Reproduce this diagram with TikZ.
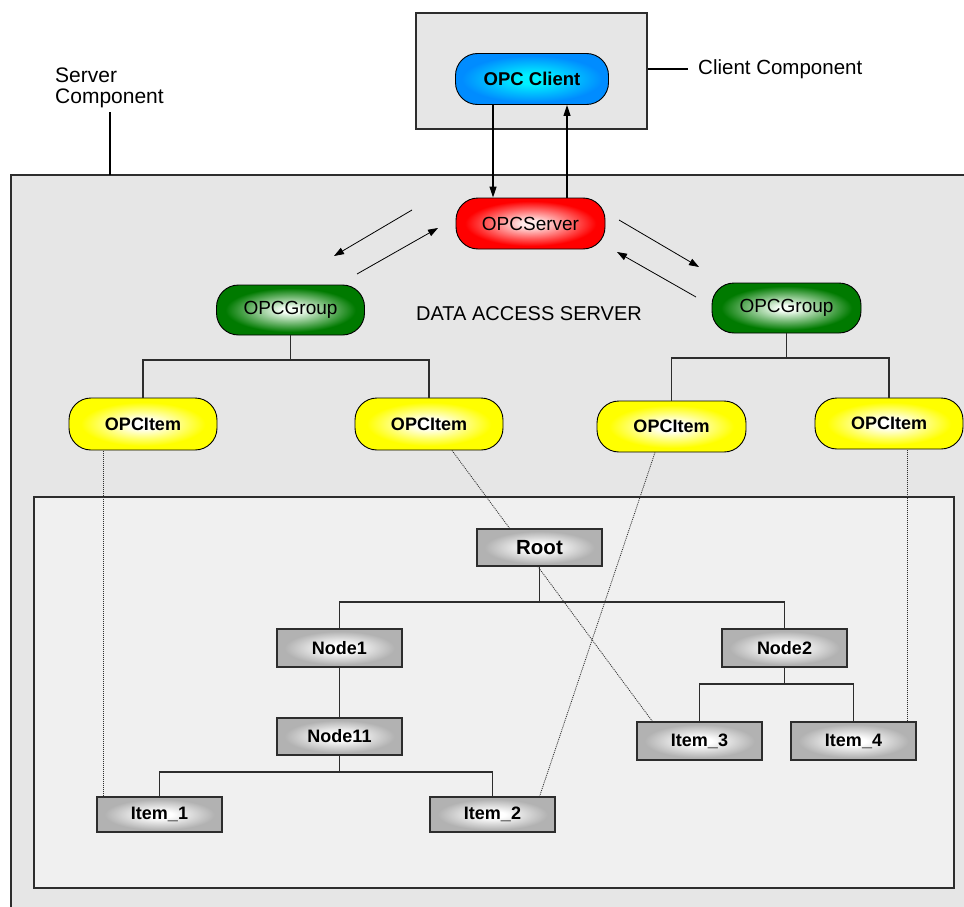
\documentclass[tikz,border=0pt]{standalone}
\usepackage{fontspec}
\setmainfont{Liberation Sans}
\usetikzlibrary{arrows.meta,calc}
\pgfdeclarelayer{back}
\pgfdeclarelayer{mid}
\pgfsetlayers{back,mid,main}
\definecolor{boxgray}{RGB}{230,230,230}
\definecolor{innergray}{RGB}{240,240,240}
\definecolor{cblue}{RGB}{0,140,255}
\definecolor{ccyan}{RGB}{0,240,255}
\definecolor{sred}{RGB}{255,0,0}
\definecolor{spink}{RGB}{255,235,235}
\definecolor{ggreen}{RGB}{0,122,0}
\definecolor{glight}{RGB}{245,255,245}
\definecolor{iyellow}{RGB}{255,255,0}
\definecolor{tgray}{RGB}{178,178,178}
\definecolor{lineg}{RGB}{45,45,45}
\pgfdeclareradialshading{clientshade}{\pgfpoint{0bp}{0bp}}{color(0bp)=(ccyan); color(5bp)=(ccyan); color(23bp)=(cblue); color(50bp)=(cblue)}
\pgfdeclareradialshading{servershade}{\pgfpoint{0bp}{0bp}}{color(0bp)=(spink); color(3bp)=(spink); color(22bp)=(sred); color(50bp)=(sred)}
\pgfdeclareradialshading{groupshade}{\pgfpoint{0bp}{0bp}}{color(0bp)=(glight); color(3bp)=(glight); color(22bp)=(ggreen); color(50bp)=(ggreen)}
\pgfdeclareradialshading{itemshade}{\pgfpoint{0bp}{0bp}}{color(0bp)=(white); color(4bp)=(white); color(21bp)=(iyellow); color(50bp)=(iyellow)}
\pgfdeclareradialshading{treeshade}{\pgfpoint{0bp}{0bp}}{color(0bp)=(white); color(5bp)=(white); color(22bp)=(tgray); color(50bp)=(tgray)}
\begin{document}
\begin{tikzpicture}[x=1pt,y=-1pt,
  pill/.style={draw=black, line width=0.9pt, rounded corners=22pt, inner sep=0pt},
  clientnode/.style={pill, minimum width=153pt, minimum height=51pt, shading=clientshade, font=\fontsize{18.5}{20}\selectfont\bfseries},
  servernode/.style={pill, minimum width=149pt, minimum height=51pt, shading=servershade, font=\fontsize{19}{20}\selectfont},
  groupnode/.style={pill, minimum width=148pt, minimum height=50pt, shading=groupshade, font=\fontsize{19}{20}\selectfont},
  itemnode/.style={pill, minimum width=148pt, minimum height=51pt, shading=itemshade, font=\fontsize{18}{20}\selectfont\bfseries},
  treenode/.style={draw=lineg, line width=1.1pt, minimum width=125pt, minimum height=37pt, inner sep=0pt, shading=treeshade, font=\fontsize{18}{20}\selectfont\bfseries},
  treeline/.style={draw=lineg, line width=1.1pt},
  dotline/.style={draw=lineg, line width=0.8pt, dash pattern=on 1pt off 1pt},
  arr/.style={draw=black, line width=0.8pt, -{Triangle[length=10pt,width=7pt]}},
  carr/.style={draw=black, line width=1.1pt, -{Triangle[length=11pt,width=7pt]}},
  lbl/.style={inner sep=0pt, font=\fontsize{20.5}{21.5}\selectfont}
]
\useasboundingbox (0,0) rectangle (964,907);

% background, server component box (cut by picture edges at right and bottom), address-space box
\begin{pgfonlayer}{back}
\fill[white] (0,0) rectangle (964,907);
\fill[boxgray] (11,175) rectangle (964,907);
\draw[lineg, line width=1.1pt] (11,907) -- (11,175) -- (964,175);
\fill[innergray] (34,497) rectangle (954,888);
\draw[lineg, line width=1.2pt] (34,497) rectangle (954,888);
\end{pgfonlayer}

% client box
\node[draw=lineg, line width=1.1pt, fill=boxgray, minimum width=231pt, minimum height=116pt, inner sep=0pt] (clientbox) at (531.5,71) {};

% labels
\node[lbl, anchor=west] (cclabel) at (698,69) {Client Component};
\node[lbl, anchor=west, align=left, font=\fontsize{21}{21.5}\selectfont] (sclabel) at (55,88) {Server\\Component};
\node[lbl, font=\fontsize{20}{21}\selectfont] (das) at (529,314) {DATA ACCESS SERVER};

\draw[line width=1.3pt] (clientbox.east |- cclabel.west) -- ([xshift=-10pt]cclabel.west);
\coordinate (scfoot) at (110,175);
\draw[line width=1.3pt] ([yshift=-4pt]sclabel.south -| scfoot) -- (scfoot);

% OPC nodes
\node[clientnode] (client) at (532,79) {OPC Client};
\node[servernode] (server) at (530.5,223.5) {OPCServer};
\node[groupnode] (groupL) at (290.5,310) {OPCGroup};
\node[groupnode, minimum width=149pt] (groupR) at (786.5,308) {OPCGroup};
\node[itemnode, minimum height=52pt] (itemL1) at (143,424) {OPCItem};
\node[itemnode, minimum height=52pt] (itemL2) at (429,424) {OPCItem};
\node[itemnode, minimum width=149pt] (itemR1) at (671.5,426.5) {OPCItem};
\node[itemnode] (itemR2) at (889,423.5) {OPCItem};

% address space tree
\node[treenode, font=\fontsize{20.5}{21}\selectfont\bfseries] (root) at (539.5,547.5) {Root};
\node[treenode, minimum height=38pt] (node1) at (339.5,648) {Node1};
\node[treenode] (node11) at (339.5,736.5) {Node11};
\node[treenode, minimum height=38pt] (node2) at (784.5,648) {Node2};
\node[treenode, minimum height=35pt] (item1) at (159.5,814.5) {Item\_1};
\node[treenode, minimum height=35pt] (item2) at (492.5,814.5) {Item\_2};
\node[treenode, minimum height=38pt] (item3) at (699.5,741) {Item\_3};
\node[treenode, minimum height=38pt] (item4) at (853.5,741) {Item\_4};

% client <-> server
\draw[carr] ([xshift=-39pt]client.south) -- ([xshift=-39pt]client.south |- server.north);
\draw[carr] ([xshift=35pt]client.south |- server.north) -- ([xshift=35pt]client.south);

% server <-> groups
\coordinate (a1s) at (412,210); \coordinate (a1e) at (334,256);
\coordinate (a2s) at (357,274); \coordinate (a2e) at (438,228);
\coordinate (a3s) at (619,220); \coordinate (a3e) at (699,267);
\coordinate (a4s) at (696,297); \coordinate (a4e) at (617,252);
\draw[arr] (a1s) -- (a1e);
\draw[arr] (a2s) -- (a2e);
\draw[arr] (a3s) -- (a3e);
\draw[arr] (a4s) -- (a4e);

% group trees
\coordinate (barL) at (0,360);
\draw[treeline] (groupL.south) -- (groupL.south |- barL);
\draw[treeline] (itemL1.north) |- (groupL.south |- barL) -| (itemL2.north);
\coordinate (barR) at (0,358);
\draw[treeline] (groupR.south) -- (groupR.south |- barR);
\draw[treeline] (itemR1.north) |- (groupR.south |- barR) -| (itemR2.north);

% address tree lines
\coordinate (barRoot) at (0,602);
\draw[treeline] (root.south) -- (root.south |- barRoot);
\draw[treeline] (node1.north) |- (root.south |- barRoot) -| (node2.north);
\draw[treeline] (node1.south) -- (node11.north);
\coordinate (barN11) at (0,772);
\draw[treeline] (node11.south) -- (node11.south |- barN11);
\draw[treeline] (item1.north) |- (node11.south |- barN11) -| (item2.north);
\coordinate (barN2) at (0,684);
\draw[treeline] (node2.south) -- (node2.south |- barN2);
\draw[treeline] (item3.north) |- (node2.south |- barN2) -| (item4.north);

% mappings (dotted)
\begin{pgfonlayer}{mid}
\draw[dotline] ([xshift=7pt]item1.north west) -- ([xshift=7pt]item1.north west |- itemL1.south);
\draw[dotline] ([xshift=23pt]itemL2.south) -- ([xshift=16pt]item3.north west);
\draw[dotline] ([xshift=-16.5pt]itemR1.south) -- ([xshift=-16pt]item2.north east);
\draw[dotline] ([xshift=-9pt]item4.north east) -- ([xshift=-9pt]item4.north east |- itemR2.south);
\end{pgfonlayer}
\end{tikzpicture}
\end{document}
